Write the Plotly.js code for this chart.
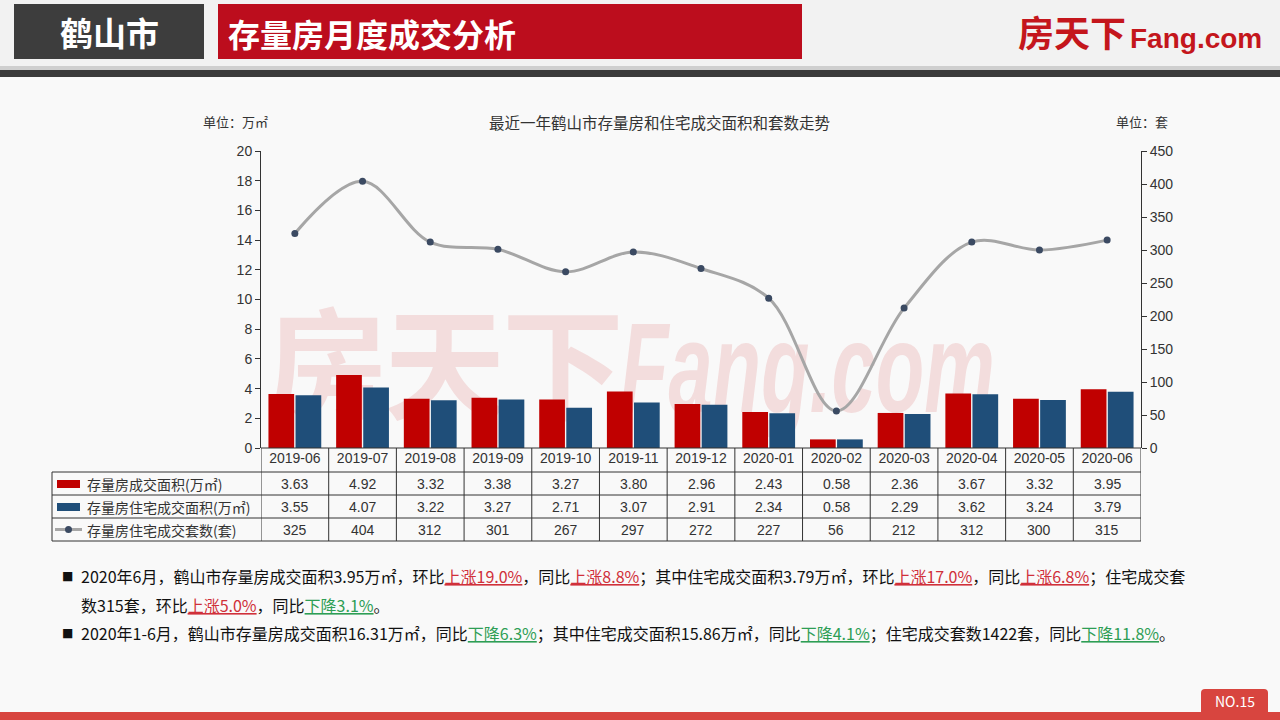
<!DOCTYPE html>
<html>
<head>
<meta charset="utf-8">
<script src="https://cdn.plot.ly/plotly-3.0.1.min.js"></script>
<style>
  html, body { margin:0; padding:0; background:#f9f9f9; }
  #wrap { position:relative; width:1280px; height:720px; overflow:hidden; }
  #wm { position:absolute; left:266px; top:268px; white-space:nowrap; color:rgba(215,55,55,0.14); z-index:0; }
  #wm .cn { font-family:"Noto Sans CJK SC"; font-weight:700; font-size:122px; letter-spacing:-4px; vertical-align:top; }
  #wm .en { display:inline-block; font-family:"Liberation Sans"; font-weight:700; font-style:italic; font-size:128px; transform:scaleX(0.62); transform-origin:left top; vertical-align:top; margin-top:26px; }
  #chart { position:absolute; left:0; top:0; width:1280px; height:720px; z-index:1; }
</style>
</head>
<body>
<div id="wrap">
  <div id="wm"><span class="cn">房天下</span><span class="en">Fang.com</span></div>
  <div id="chart"></div>
</div>
<script>
// ---- data ----
const months = ['2019-06','2019-07','2019-08','2019-09','2019-10','2019-11','2019-12','2020-01','2020-02','2020-03','2020-04','2020-05','2020-06'];
const totalArea = [3.63,4.92,3.32,3.38,3.27,3.80,2.96,2.43,0.58,2.36,3.67,3.32,3.95];
const resArea   = [3.55,4.07,3.22,3.27,2.71,3.07,2.91,2.34,0.58,2.29,3.62,3.24,3.79];
const resUnits  = [325,404,312,301,267,297,272,227,56,212,312,300,315];
const seriesNames = ['存量房成交面积(万㎡)','存量房住宅成交面积(万㎡)','存量房住宅成交套数(套)'];
const chartTitle = '最近一年鹤山市存量房和住宅成交面积和套数走势';

// ---- helpers (page pixels -> paper coords of the plot area) ----
const W = 1280, H = 720;
const ML = 261, MR = 139, MT = 151, MB = 272;
const PW = W - ML - MR, PH = H - MT - MB;
const px = x => (x - ML) / PW;
const py = y => (H - MB - y) / PH;
const RED = '#c00000', BLUE = '#1f4e79', LINE = '#a6a6a6', DOT = '#3b4a62';
const TXT = '#333333';
const FONT = 'Liberation Sans, Noto Sans CJK SC, sans-serif';
const CJK = 'Noto Sans CJK SC, sans-serif';

const traces = [
  { type:'bar', name:seriesNames[0], x:months, y:totalArea, marker:{color:RED}, yaxis:'y', hoverinfo:'skip' },
  { type:'bar', name:seriesNames[1], x:months, y:resArea, marker:{color:BLUE}, yaxis:'y', hoverinfo:'skip' },
  { type:'scatter', mode:'lines+markers', name:seriesNames[2], x:months, y:resUnits, yaxis:'y2',
    line:{color:LINE, width:3, shape:'spline', smoothing:1}, marker:{color:DOT, size:7}, hoverinfo:'skip' }
];

const shapes = [];
const annotations = [];

// header backgrounds
shapes.push({type:'rect', xref:'paper', yref:'paper', x0:px(0), x1:px(W), y0:py(66), y1:py(0), fillcolor:'#f2f2f2', line:{width:0}, layer:'below'});
shapes.push({type:'rect', xref:'paper', yref:'paper', x0:px(0), x1:px(W), y0:py(70), y1:py(66), fillcolor:'#cfcfcf', line:{width:0}, layer:'below'});
shapes.push({type:'rect', xref:'paper', yref:'paper', x0:px(0), x1:px(W), y0:py(77), y1:py(70), fillcolor:'#3b3b3b', line:{width:0}, layer:'below'});
shapes.push({type:'rect', xref:'paper', yref:'paper', x0:px(14), x1:px(204), y0:py(59), y1:py(4), fillcolor:'#3d3d3d', line:{width:0}, layer:'below'});
shapes.push({type:'rect', xref:'paper', yref:'paper', x0:px(218), x1:px(802), y0:py(59), y1:py(4), fillcolor:'#bc0d1d', line:{width:0}, layer:'below'});
// footer
shapes.push({type:'rect', xref:'paper', yref:'paper', x0:px(0), x1:px(W), y0:py(H), y1:py(712), fillcolor:'#d8453f', line:{width:0}, layer:'below'});
const tabPath = `M${px(1201)},${py(712)} L${px(1201)},${py(693)} Q${px(1201)},${py(689)} ${px(1205)},${py(689)} ` +
  `L${px(1264)},${py(689)} Q${px(1268)},${py(689)} ${px(1268)},${py(693)} L${px(1268)},${py(712)} Z`;
shapes.push({type:'path', xref:'paper', yref:'paper', path:tabPath, fillcolor:'#d8453f', line:{width:0}, layer:'below'});

// header text
annotations.push({xref:'paper', yref:'paper', x:px(109), y:py(32), text:'<b>鹤山市</b>', showarrow:false, xanchor:'center', yanchor:'middle', font:{family:CJK, size:33, color:'#ffffff'}});
annotations.push({xref:'paper', yref:'paper', x:px(226), y:py(33), text:'<b>存量房月度成交分析</b>', showarrow:false, xanchor:'left', yanchor:'middle', font:{family:CJK, size:32, color:'#ffffff'}});
annotations.push({xref:'paper', yref:'paper', x:px(1016), y:py(31), text:'<b>房天下</b>', showarrow:false, xanchor:'left', yanchor:'middle', font:{family:CJK, size:36, color:'#c4161c'}});
annotations.push({xref:'paper', yref:'paper', x:px(1128), y:py(38), text:'<b>Fang.com</b>', showarrow:false, xanchor:'left', yanchor:'middle', font:{family:'Liberation Sans', size:28, color:'#c4161c'}});
annotations.push({xref:'paper', yref:'paper', x:px(1235), y:py(701), text:'NO.15', showarrow:false, xanchor:'center', yanchor:'middle', font:{family:CJK, size:14, color:'#ffffff'}});

// chart title & units
annotations.push({xref:'paper', yref:'paper', x:px(659), y:py(122), text:chartTitle, showarrow:false, xanchor:'center', yanchor:'middle', font:{family:CJK, size:15.5, color:TXT}});
annotations.push({xref:'paper', yref:'paper', x:px(201), y:py(122), text:'单位：万㎡', showarrow:false, xanchor:'left', yanchor:'middle', font:{family:CJK, size:13, color:TXT}});
annotations.push({xref:'paper', yref:'paper', x:px(1114), y:py(122), text:'单位：套', showarrow:false, xanchor:'left', yanchor:'middle', font:{family:CJK, size:13, color:TXT}});

// ---- data table (columns aligned with the category axis) ----
const LINEC = '#333333';
const rowY = [472, 495, 518, 541];
const tableTop = 448;
shapes.push({type:'line', xref:'x', yref:'paper', x0:-0.5, x1:months.length-0.5, y0:py(tableTop), y1:py(tableTop), line:{color:LINEC, width:1}});
rowY.forEach(y => {
  shapes.push({type:'line', xref:'paper', yref:'paper', x0:px(52), x1:px(1141), y0:py(y), y1:py(y), line:{color:LINEC, width:1}});
});
shapes.push({type:'line', xref:'paper', yref:'paper', x0:px(52), x1:px(52), y0:py(472), y1:py(541), line:{color:LINEC, width:1}});
for (let k = 0; k <= months.length; k++) {
  shapes.push({type:'line', xref:'x', yref:'paper', x0:k-0.5, x1:k-0.5, y0:py(tableTop), y1:py(541), line:{color:LINEC, width:1}});
}
const rows = [
  totalArea.map(v => v.toFixed(2)),
  resArea.map(v => v.toFixed(2)),
  resUnits.map(v => String(v))
];
rows.forEach((vals, r) => {
  const yc = (rowY[r] + rowY[r+1]) / 2;
  vals.forEach((t, i) => {
    annotations.push({xref:'x', yref:'paper', x:months[i], y:py(yc), text:t, showarrow:false, xanchor:'center', yanchor:'middle', font:{family:FONT, size:14, color:TXT}});
  });
  annotations.push({xref:'paper', yref:'paper', x:px(85), y:py(yc), text:seriesNames[r], showarrow:false, xanchor:'left', yanchor:'middle', font:{family:CJK, size:14, color:TXT}});
});
// legend keys in table
shapes.push({type:'rect', xref:'paper', yref:'paper', x0:px(57), x1:px(80), y0:py(488), y1:py(480), fillcolor:RED, line:{width:0}});
shapes.push({type:'rect', xref:'paper', yref:'paper', x0:px(57), x1:px(80), y0:py(511), y1:py(503), fillcolor:BLUE, line:{width:0}});
shapes.push({type:'line', xref:'paper', yref:'paper', x0:px(55), x1:px(82), y0:py(529.5), y1:py(529.5), line:{color:LINE, width:3}});
shapes.push({type:'circle', xref:'paper', yref:'paper', x0:px(65), x1:px(72), y0:py(533), y1:py(526), fillcolor:DOT, line:{width:0}});

// ---- bullet text ----
const RC = '#d0303a', GC = '#2e9e55';
const up = t => `<span style="color:${RC}"><u>${t}</u></span>`;
const dn = t => `<span style="color:${GC}"><u>${t}</u></span>`;
const line1 = `2020年6月，鹤山市存量房成交面积3.95万㎡，环比${up('上涨19.0%')}，同比${up('上涨8.8%')}；其中住宅成交面积3.79万㎡，环比${up('上涨17.0%')}，同比${up('上涨6.8%')}；住宅成交套`;
const line2 = `数315套，环比${up('上涨5.0%')}，同比${dn('下降3.1%')}。`;
const line3 = `2020年1-6月，鹤山市存量房成交面积16.31万㎡，同比${dn('下降6.3%')}；其中住宅成交面积15.86万㎡，同比${dn('下降4.1%')}；住宅成交套数1422套，同比${dn('下降11.8%')}。`;
[[line1, 576, true], [line2, 605, false], [line3, 633, true]].forEach(([t, y, b]) => {
  annotations.push({xref:'paper', yref:'paper', x:px(79), y:py(y), text:t, showarrow:false, xanchor:'left', yanchor:'middle', align:'left', font:{family:CJK, size:16, color:'#111111'}});
  if (b) annotations.push({xref:'paper', yref:'paper', x:px(67), y:py(y), text:'■', showarrow:false, xanchor:'center', yanchor:'middle', font:{family:'DejaVu Sans', size:12, color:'#111111'}});
});

const axisCommon = {showgrid:false, zeroline:false, showline:true, linecolor:LINEC, linewidth:1, ticks:'outside', ticklen:5, tickcolor:LINEC,
  tickfont:{family:FONT, size:14, color:TXT}, fixedrange:true};

const layout = {
  width:W, height:H,
  margin:{l:ML, r:MR, t:MT, b:MB, pad:0},
  paper_bgcolor:'rgba(0,0,0,0)', plot_bgcolor:'rgba(0,0,0,0)',
  showlegend:false,
  barmode:'group', bargap:0.2, bargroupgap:0.05,
  font:{family:FONT, color:TXT},
  xaxis:{type:'category', range:[-0.5, months.length-0.5], showgrid:false, zeroline:false, showline:false, ticks:'',
    tickfont:{family:FONT, size:14, color:TXT}, fixedrange:true},
  yaxis:Object.assign({range:[0,20], dtick:2, tick0:0}, axisCommon),
  yaxis2:Object.assign({range:[0,450], dtick:50, tick0:0, overlaying:'y', side:'right'}, axisCommon),
  shapes, annotations
};

Plotly.newPlot('chart', traces, layout, {staticPlot:true, displayModeBar:false});
</script>
</body>
</html>
